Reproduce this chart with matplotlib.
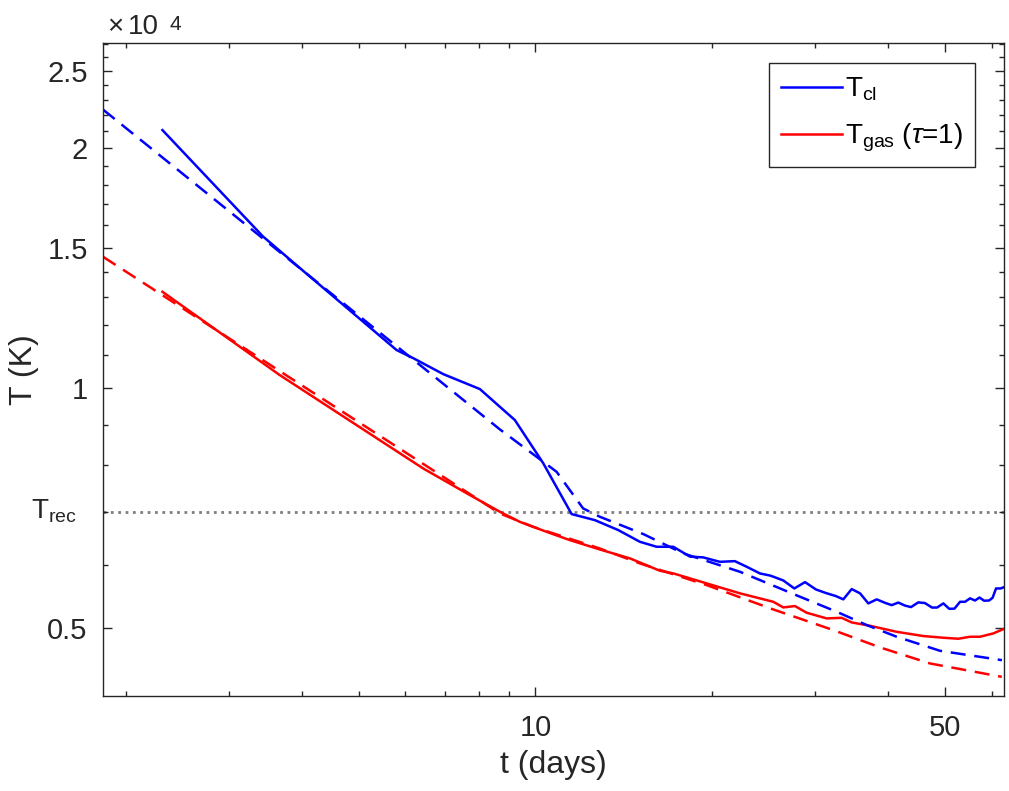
import numpy as np
import matplotlib
matplotlib.use('Agg')
from matplotlib import pyplot as plt
from matplotlib.ticker import FixedLocator, NullFormatter, FixedFormatter
import matplotlib.transforms as mtransforms

plt.rcParams['font.family'] = ['Liberation Sans', 'DejaVu Sans']
plt.rcParams['mathtext.fontset'] = 'custom'
plt.rcParams['mathtext.rm'] = 'Liberation Sans'
plt.rcParams['mathtext.it'] = 'Liberation Sans:italic'

# cloud temperature
t_cl = [2.311, 3.428, 3.965, 5.797, 6.187, 6.963, 8.042, 8.697, 9.226,
        10.31, 11.53, 12.63, 13.85, 15.08, 16.10, 17.19, 18.35, 19.33, 20.64,
        21.89, 23.0, 24.16, 25.18, 26.48, 27.65, 28.84, 30.11, 31.31, 32.57,
        33.52, 34.64, 35.80, 36.98, 38.22, 39.48, 40.53, 41.60, 42.71, 43.73,
        45.0, 46.19, 47.5, 48.44, 49.65, 50.83, 51.88, 53.02, 54.07, 55.14,
        56.23, 57.24, 58.26, 59.42, 60.25, 61.07, 62.17, 63.03]
T_cl = [21065, 15500, 14143, 11161, 10904, 10412, 9971, 9475, 9118,
        8052, 6950, 6830, 6636, 6415, 6324, 6324, 6147, 6133, 6055,
        6067, 5963, 5855, 5818, 5738, 5607, 5710, 5590, 5533, 5484,
        5433, 5597, 5528, 5370, 5433, 5379, 5343, 5383, 5336, 5313,
        5386, 5375, 5306, 5306, 5370, 5286, 5290, 5395, 5395, 5449,
        5415, 5462, 5412, 5415, 5458, 5607, 5607, 5628]

# cloud temperature, fit
t_cl_fit = [1.830, 3.965, 8.697, 10.05, 10.87, 12.06, 12.88, 15.28, 17.88,
            22.34, 28.28, 32.66, 36.75, 41.34, 49.01, 60.83, 62.5]
T_cl_fit = [22350, 14136, 8876, 8200, 7852, 7066, 6897, 6560, 6204,
            5883, 5474, 5242, 5044, 4877, 4683, 4572, 4558]

# gas temperature at tau = 1
t_gas = [2.311, 3.664, 6.434, 7.732, 8.697, 9.408, 10.45, 11.45, 12.88, 14.50,
         16.31, 17.19, 19.60, 22.34, 25.46, 26.48, 27.72, 29.03, 31.40, 33.30,
         34.64, 37.23, 41.34, 45.88, 49.65, 52.67, 55.14, 57.34, 60.41, 62.86]
T_gas = [13206, 10383, 7930, 7342, 6997, 6796, 6603, 6447, 6275, 6115,
         5901, 5856, 5689, 5528, 5395, 5308, 5329, 5227, 5142, 5151,
         5083, 5034, 4947, 4887, 4863, 4849, 4877, 4877, 4924, 4986]

# gas temperature, fit
t_gas_fit = [1.830, 8.697, 9.913, 12.88, 15.08, 19.60, 25.46, 32.22, 38.72,
             47.12, 62.47]
T_gas_fit = [14611, 6963, 6699, 6293, 6027, 5661, 5277, 4972, 4729,
             4515, 4344]

T_rec = 7000

ytick_vals = [5000, 10000, 15000, 20000, 25000]
ytick_labels = ['0.5', '1', '1.5', '2', '2.5']
xtick_vals = [10, 50]

ink = '#262626'
fig = plt.figure(figsize=(10.09, 7.91), dpi=100)
ax = fig.add_axes([0.1021, 0.1201, 0.8925, 0.8259])

ax.axhline(T_rec, color='#7f7f7f', lw=2.0, ls=':', zorder=1)
ax.plot(t_cl, T_cl, color='b', lw=1.8, label=r'T$_{\mathregular{cl}}$')
ax.plot(t_gas, T_gas, color='r', lw=1.8, label=r'T$_{\mathregular{gas}}$ ($\tau$=1)')
ax.plot(t_cl_fit, T_cl_fit, color='b', lw=1.8, dashes=(6, 3.5))
ax.plot(t_gas_fit, T_gas_fit, color='r', lw=1.8, dashes=(6, 3.5))

ax.set_xscale('log')
ax.set_yscale('log')
ax.set_xlim(1.83, 62.9)
ax.set_ylim(4110, 27110)

ax.xaxis.set_major_locator(FixedLocator(xtick_vals))
ax.xaxis.set_major_formatter(FixedFormatter([str(v) for v in xtick_vals]))
ax.xaxis.set_minor_locator(FixedLocator([2, 3, 4, 5, 6, 7, 8, 9, 20, 30, 40, 60]))
ax.xaxis.set_minor_formatter(NullFormatter())
ax.yaxis.set_major_locator(FixedLocator(ytick_vals))
ax.yaxis.set_major_formatter(FixedFormatter(ytick_labels))
ax.yaxis.set_minor_locator(FixedLocator([k * 1000 for k in range(5, 28)]))
ax.yaxis.set_minor_formatter(NullFormatter())

ax.tick_params(which='both', direction='in', top=True, right=True,
               color=ink, labelcolor=ink, width=1.0, labelsize=21)
ax.tick_params(which='major', length=6.5)
ax.tick_params(which='minor', length=3.3)
ax.tick_params(axis='x', which='major', pad=13)
ax.tick_params(axis='y', which='major', pad=11)
for s in ax.spines.values():
    s.set_color(ink)
    s.set_linewidth(1.0)

ax.set_xlabel('t (days)', fontsize=23, color=ink, labelpad=6)
ax.set_ylabel('T (K)', fontsize=23, color=ink, labelpad=6)

trans = mtransforms.blended_transform_factory(ax.transAxes, ax.transData)
ax.text(-0.0289, T_rec, r'T$_{\mathregular{rec}}$', transform=trans,
        ha='right', va='center', fontsize=20, color=ink)

# exponent label
fig.text(0.106, 0.957, '\u00d7', fontsize=20, color=ink, ha='left', va='baseline')
fig.text(0.1265, 0.957, '10', fontsize=20, color=ink, ha='left', va='baseline')
fig.text(0.1675, 0.962, '4', fontsize=15, color=ink, ha='left', va='baseline')

leg = ax.legend(loc='upper left', bbox_to_anchor=(0.739, 0.969),
                borderaxespad=0, fontsize=20, handlelength=2.2,
                handletextpad=0.1, borderpad=0.45, labelspacing=0.68,
                fancybox=False, framealpha=1, edgecolor=ink)
leg.get_frame().set_linewidth(1.0)

fig.savefig('out.png', dpi=100)
